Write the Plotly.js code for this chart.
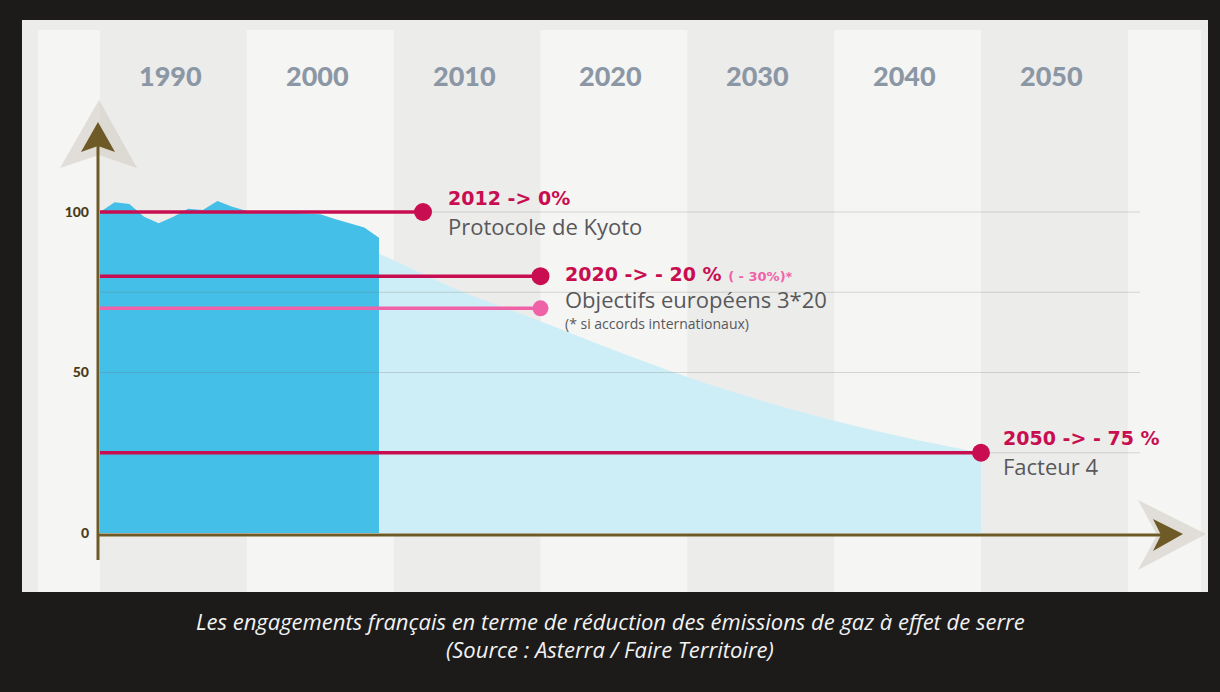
<!DOCTYPE html>
<html>
<head>
<meta charset="utf-8">
<script src="https://cdn.plot.ly/plotly-3.0.1.min.js"></script>
<style>
  html, body { margin: 0; padding: 0; background: #1c1b1a; }
  #chart { width: 1220px; height: 692px; }
</style>
</head>
<body>
<div id="chart"></div>
<script>
// ---------- data ----------
const decadeLabels = ['1990', '2000', '2010', '2020', '2030', '2040', '2050'];
const decadeStarts = [1990, 2000, 2010, 2020, 2030, 2040, 2050];

const histYears  = [1990,1991,1992,1993,1994,1995,1996,1997,1998,1999,2000,2001,2002,2003,2004,2005,2006,2007,2008,2009];
const histValues = [100,103,102.5,98.5,96.5,98.5,101,100.6,103.4,101.6,100.3,100,99.8,99.8,99.6,99.3,97.8,96.5,95.2,92];

const projYears  = [2009, 2010, 2015, 2020, 2025, 2030, 2035, 2040, 2045, 2050];
const projValues = [87, 85, 74.5, 66, 57, 48.6, 41.3, 35, 29.6, 25];

const targetYears  = [2012, 2020, 2020, 2050];
const targetValues = [100, 80, 70, 25];

const yTickVals   = [0, 50, 100];
const yTickLabels = ['0', '50', '100'];
const gridValues  = [25, 50, 75, 100];

// ---------- geometry helpers ----------
const W = 1220, H = 692;
const PX_YEAR = 14.683, PX_1990 = 100;       // x mapping
const PX_ZERO = 533, PX_UNIT = 3.21;          // y mapping
const xRange = [1990 - PX_1990 / PX_YEAR, 1990 + (W - PX_1990) / PX_YEAR];
const yRange = [-(H - PX_ZERO) / PX_UNIT, PX_ZERO / PX_UNIT];
const px2yr = p => 1990 + (p - PX_1990) / PX_YEAR;
const P = (x, y) => (x / W).toFixed(5) + ',' + (1 - y / H).toFixed(5);
const py = y => 1 - y / H;

const RED = '#c80e50', PINK = '#f062a8', OLIVE = '#6e5a26';

// ---------- traces ----------
const traces = [];
traces.push({
  x: projYears, y: projValues, type: 'scatter', mode: 'lines',
  line: { width: 0, shape: 'spline', smoothing: 1 }, fill: 'tozeroy',
  fillcolor: '#cdeef7', hoverinfo: 'skip'
});
traces.push({
  x: histYears, y: histValues, type: 'scatter', mode: 'lines',
  line: { width: 0, shape: 'linear' }, fill: 'tozeroy',
  fillcolor: '#44bfe7', hoverinfo: 'skip'
});
// gridlines
const gx = [], gy = [];
gridValues.forEach(v => { gx.push(1990, px2yr(1140), null); gy.push(v, v, null); });
traces.push({
  x: gx, y: gy, type: 'scatter', mode: 'lines',
  line: { color: 'rgba(110,110,105,0.25)', width: 1 }, hoverinfo: 'skip'
});
// target lines
const targetColors = [RED, RED, PINK, RED];
const targetSizes  = [18, 18, 16, 18];
targetYears.forEach((yr, i) => {
  traces.push({
    x: [1990, yr], y: [targetValues[i], targetValues[i]],
    type: 'scatter', mode: 'lines', opacity: 1,
    line: { color: targetColors[i], width: 3.5 },
    hoverinfo: 'skip'
  });
  traces.push({
    x: [yr], y: [targetValues[i]],
    type: 'scatter', mode: 'markers', opacity: 1,
    marker: { color: targetColors[i], size: targetSizes[i], opacity: 1, line: { width: 0 } },
    hoverinfo: 'skip'
  });
});

// ---------- shapes ----------
const shapes = [];
shapes.push({ type: 'rect', xref: 'paper', yref: 'paper', x0: 22 / W, x1: 1208 / W, y0: py(592), y1: py(20),
  fillcolor: '#ececeb', line: { width: 0 }, layer: 'below' });
const lightStripes = [[px2yr(38), 1990], [2000, 2010], [2020, 2030], [2040, 2050], [2060, px2yr(1201)]];
lightStripes.forEach(s => shapes.push({ type: 'rect', xref: 'x', yref: 'paper', x0: s[0], x1: s[1],
  y0: py(592), y1: py(30), fillcolor: '#f5f5f4', line: { width: 0 }, layer: 'below' }));

// arrow shadows
shapes.push({ type: 'path', xref: 'paper', yref: 'paper', layer: 'above',
  path: 'M' + P(99, 100) + 'L' + P(137, 168) + 'L' + P(99, 155) + 'L' + P(60, 168) + 'Z',
  fillcolor: 'rgba(205,200,190,0.5)', line: { width: 0 } });
shapes.push({ type: 'path', xref: 'paper', yref: 'paper', layer: 'above',
  path: 'M' + P(1206, 534) + 'L' + P(1138, 570) + 'L' + P(1157, 535) + 'L' + P(1138, 500) + 'Z',
  fillcolor: 'rgba(205,200,190,0.5)', line: { width: 0 } });
// axis lines
shapes.push({ type: 'line', xref: 'paper', yref: 'paper', x0: 98 / W, x1: 98 / W, y0: py(560), y1: py(140),
  line: { color: OLIVE, width: 3 }, layer: 'above' });
shapes.push({ type: 'line', xref: 'paper', yref: 'paper', x0: 97 / W, x1: 1168 / W, y0: py(535), y1: py(535),
  line: { color: OLIVE, width: 3 }, layer: 'above' });
// arrow heads
shapes.push({ type: 'path', xref: 'paper', yref: 'paper', layer: 'above',
  path: 'M' + P(98, 122) + 'L' + P(115, 152) + 'L' + P(98, 146) + 'L' + P(81, 152) + 'Z',
  fillcolor: OLIVE, line: { width: 0 } });
shapes.push({ type: 'path', xref: 'paper', yref: 'paper', layer: 'above',
  path: 'M' + P(1183, 534) + 'L' + P(1153, 551) + 'L' + P(1161, 535) + 'L' + P(1153, 519) + 'Z',
  fillcolor: OLIVE, line: { width: 0 } });

// ---------- annotations ----------
const ann = [];
decadeLabels.forEach((t, i) => ann.push({
  text: t, x: decadeStarts[i] + 4.8, xref: 'x', y: py(75), yref: 'paper',
  showarrow: false, xanchor: 'center', yanchor: 'middle',
  font: { family: 'Lato, DejaVu Sans, sans-serif', size: 27, weight: 900, color: '#8b97a4' }
}));

const redFont = { family: 'DejaVu Sans, sans-serif', size: 19, weight: 700, color: RED };
const grayFont = { family: 'Open Sans, sans-serif', size: 22, color: '#58585a' };
function label(text, year, value, ys, font, xs) {
  ann.push({ text: text, x: year, y: value, xref: 'x', yref: 'y', xshift: xs, yshift: ys,
    showarrow: false, xanchor: 'left', yanchor: 'middle', font: font });
}
label('2012 -> 0%', targetYears[0], targetValues[0], 14, redFont, 23);
label('Protocole de Kyoto', targetYears[0], targetValues[0], -14, grayFont, 23);
label('2020 -> - 20 % <span style="font-size:13px;color:' + PINK + '">( - 30%)*</span>',
  targetYears[1], targetValues[1], 2, redFont, 23);
label('Objectifs européens 3*20', targetYears[1], targetValues[1], -23, grayFont, 23);
label('(* si accords internationaux)', targetYears[1], targetValues[1], -47,
  { family: 'Open Sans, sans-serif', size: 14, color: '#58585a' }, 23);
label('2050 -> - 75 %', targetYears[3], targetValues[3], 15, redFont, 20);
label('Facteur 4', targetYears[3], targetValues[3], -13, grayFont, 20);

const capFont = { family: 'Open Sans, sans-serif', size: 22, style: 'italic', weight: 400, color: '#f2f2f2' };
ann.push({ text: 'Les engagements français en terme de réduction des émissions de gaz à effet de serre',
  x: 0.5, y: py(621), xref: 'paper', yref: 'paper', showarrow: false, xanchor: 'center', yanchor: 'middle', font: capFont });
ann.push({ text: '(Source : Asterra / Faire Territoire)',
  x: 0.5, y: py(649), xref: 'paper', yref: 'paper', showarrow: false, xanchor: 'center', yanchor: 'middle', font: capFont });

const layout = {
  width: W, height: H,
  margin: { l: 0, r: 0, t: 0, b: 0, pad: 0 },
  paper_bgcolor: '#1c1b1a', plot_bgcolor: 'rgba(0,0,0,0)',
  showlegend: false,
  xaxis: { range: xRange, visible: false, fixedrange: true },
  yaxis: {
    range: yRange, anchor: 'free', position: 98 / W, side: 'left',
    tickvals: yTickVals, ticktext: yTickLabels,
    showgrid: false, zeroline: false, showline: false, ticks: '',
    ticklabelstandoff: 9,
    tickfont: { family: 'Lato, DejaVu Sans, sans-serif', size: 14, weight: 900, color: '#4a3c18' },
    fixedrange: true
  },
  shapes: shapes,
  annotations: ann
};

Plotly.newPlot('chart', traces, layout, { staticPlot: true, displayModeBar: false });
</script>
</body>
</html>
